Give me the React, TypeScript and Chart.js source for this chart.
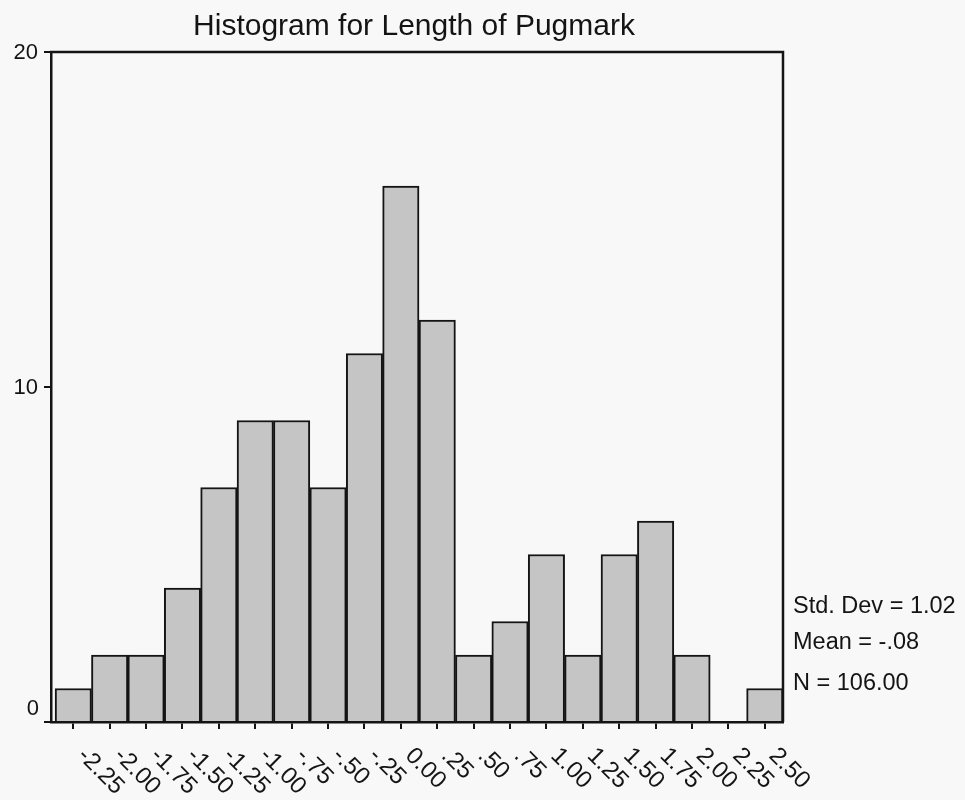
import React, { useEffect, useRef } from "react";
import { Chart, registerables } from "chart.js";

Chart.register(...registerables);

// Histogram bins (centres) and their printed labels
const binCenters = [
  -2.25, -2.0, -1.75, -1.5, -1.25, -1.0, -0.75, -0.5, -0.25, 0.0,
  0.25, 0.5, 0.75, 1.0, 1.25, 1.5, 1.75, 2.0, 2.25, 2.5,
];
const binLabels = [
  "-2.25", "-2.00", "-1.75", "-1.50", "-1.25", "-1.00", "-.75", "-.50", "-.25", "0.00",
  ".25", ".50", ".75", "1.00", "1.25", "1.50", "1.75", "2.00", "2.25", "2.50",
];
// Frequency per bin (sums to N = 106)
const frequencies = [1, 2, 2, 4, 7, 9, 9, 7, 11, 16, 12, 2, 3, 5, 2, 5, 6, 2, 0, 1];
const binWidth = 0.25;

const yTickValues = [0, 10, 20];
const yTickLabels = ["0", "10", "20"];

const chartTitle = "Histogram for Length of Pugmark";
const statsLines = ["Std. Dev = 1.02", "Mean = -.08", "N = 106.00"];

const INK = "#141414";
const FONT = "'Liberation Sans', Arial, Helvetica, sans-serif";

const decorations = {
  id: "decorations",
  beforeDraw(chart: any) {
    const { ctx, width, height } = chart;
    ctx.save();
    ctx.fillStyle = "#f8f8f8";
    ctx.fillRect(0, 0, width, height);
    ctx.restore();
  },
  afterDraw(chart: any) {
    const { ctx, chartArea: a, scales } = chart;
    const xs = scales.x;
    const ys = scales.y;
    ctx.save();

    // top and right sides of the frame
    ctx.strokeStyle = INK;
    ctx.lineWidth = 2.5;
    ctx.beginPath();
    ctx.moveTo(a.left - 1, a.top);
    ctx.lineTo(a.right, a.top);
    ctx.lineTo(a.right, a.bottom);
    ctx.stroke();

    ctx.fillStyle = INK;

    // title
    ctx.font = `30px ${FONT}`;
    ctx.textAlign = "center";
    ctx.textBaseline = "alphabetic";
    ctx.fillText(chartTitle, (a.left + a.right) / 2 - 3, a.top - 17);

    // y tick labels
    ctx.font = `22px ${FONT}`;
    ctx.textAlign = "right";
    yTickValues.forEach((v, i) => {
      const py = ys.getPixelForValue(v);
      if (v === 0) {
        ctx.textBaseline = "bottom";
        ctx.fillText(yTickLabels[i], a.left - 12, py - 2);
      } else {
        ctx.textBaseline = "middle";
        ctx.fillText(yTickLabels[i], a.left - 13, py + 1);
      }
    });

    // x tick labels, turned 45 degrees clockwise and starting at each tick
    ctx.font = `24px ${FONT}`;
    ctx.textAlign = "left";
    ctx.textBaseline = "middle";
    binCenters.forEach((v, i) => {
      const px = xs.getPixelForValue(v);
      ctx.save();
      ctx.translate(px + 8, a.bottom + 30);
      ctx.rotate(Math.PI / 4);
      ctx.fillText(binLabels[i], 0, 0);
      ctx.restore();
    });

    // summary statistics beside the frame
    ctx.font = `23.5px ${FONT}`;
    ctx.textAlign = "left";
    ctx.textBaseline = "alphabetic";
    const offsets = [109, 73, 32];
    statsLines.forEach((s, i) => {
      ctx.fillText(s, a.right + 10, a.bottom - offsets[i]);
    });

    ctx.restore();
  },
};

export default function App() {
  const canvasRef = useRef<HTMLCanvasElement | null>(null);

  useEffect(() => {
    const canvas = canvasRef.current;
    if (!canvas) return;
    const chart = new Chart(canvas, {
      type: "bar",
      data: {
        datasets: [
          {
            data: frequencies.map((f, i) => ({ x: binCenters[i], y: f })),
            backgroundColor: "#c5c5c5",
            borderColor: INK,
            borderWidth: 2,
            borderSkipped: "bottom",
            barPercentage: 1,
            categoryPercentage: 1,
          },
        ],
      },
      options: {
        responsive: false,
        animation: false,
        events: [],
        layout: { padding: { top: 52, right: 182, bottom: 0, left: 0 } },
        plugins: {
          legend: { display: false },
          tooltip: { enabled: false },
          title: { display: false },
        },
        scales: {
          x: {
            type: "linear",
            bounds: "data",
            offset: false,
            min: binCenters[0] - binWidth / 2 - 0.028,
            max: binCenters[binCenters.length - 1] + binWidth / 2,
            afterBuildTicks: (s: any) => {
              s.ticks = binCenters.map((v) => ({ value: v }));
            },
            afterFit: (s: any) => {
              s.height = 78;
            },
            ticks: { display: false },
            grid: {
              offset: false,
              drawOnChartArea: false,
              drawTicks: true,
              tickLength: 7,
              color: INK,
              lineWidth: 2,
            },
            border: { display: true, color: INK, width: 2.5 },
          },
          y: {
            type: "linear",
            min: 0,
            max: 20,
            afterBuildTicks: (s: any) => {
              s.ticks = yTickValues.map((v) => ({ value: v }));
            },
            afterFit: (s: any) => {
              s.width = 51;
            },
            ticks: { display: false },
            grid: {
              drawOnChartArea: false,
              drawTicks: true,
              tickLength: 7,
              color: INK,
              lineWidth: 2,
            },
            border: { display: true, color: INK, width: 2.5 },
          },
        },
      },
      plugins: [decorations],
    });
    return () => chart.destroy();
  }, []);

  return (
    <div style={{ position: "fixed", left: 0, top: 0, width: 965, height: 800 }}>
      <canvas ref={canvasRef} width={965} height={800} />
    </div>
  );
}
